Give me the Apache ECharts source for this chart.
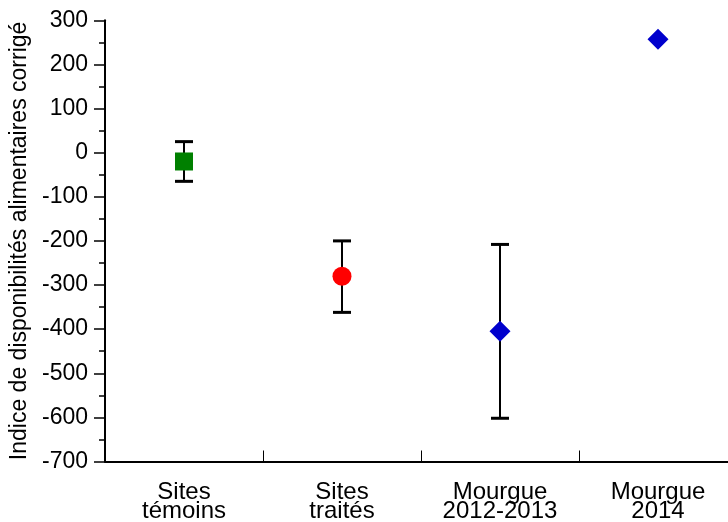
<!DOCTYPE html>
<html>
<head>
<meta charset="utf-8">
<script src="https://cdn.jsdelivr.net/npm/echarts@6/dist/echarts.min.js"></script>
<style>
  html, body { margin: 0; padding: 0; background: #fff; }
  #chart { width: 728px; height: 522px; }
</style>
</head>
<body>
<div id="chart"></div>
<script>
// Groups along the x axis
const categories = ['Sites\ntémoins', 'Sites\ntraités', 'Mourgue\n2012-2013', 'Mourgue\n2014'];
// Mean corrected food-availability index per group
const means = [-20, -280, -405, 257];
// Error bar limits (null where no bar is drawn)
const errLow = [-65, -362, -602, null];
const errHigh = [25, -200, -208, null];
// Y axis range and step
const yMin = -700, yMax = 300, yStep = 100;

// Marker appearance per group
const markerStyles = [
  { symbol: 'rect', size: 18, color: '#008000' },
  { symbol: 'circle', size: 19, color: '#ff0000' },
  { symbol: 'diamond', size: 21, color: '#0000cd' },
  { symbol: 'diamond', size: 21, color: '#0000cd' }
];

const FONT = '"Liberation Sans", Arial, Helvetica, sans-serif';

const chart = echarts.init(document.getElementById('chart'), null, { renderer: 'canvas' });

const errData = categories.map((c, i) => [i, errLow[i], errHigh[i]]).filter(d => d[1] !== null);
const pointData = categories.map((c, i) => ({
  value: [i, means[i]],
  symbol: markerStyles[i].symbol,
  symbolSize: markerStyles[i].size,
  itemStyle: { color: markerStyles[i].color, opacity: 1 }
}));

chart.setOption({
  animation: false,
  backgroundColor: '#fff',
  grid: { left: 105, top: 20.3, bottom: 60.5, right: -9, containLabel: false, outerBoundsMode: 'none' },
  xAxis: {
    type: 'category',
    data: categories,
    boundaryGap: true,
    axisLine: { onZero: false, lineStyle: { color: '#000', width: 2 } },
    axisTick: { show: true, inside: true, length: 11, lineStyle: { color: '#000', width: 1 } },
    axisLabel: {
      color: '#000', fontFamily: FONT, fontSize: 24, lineHeight: 19, margin: 21,
      interval: 0
    },
    splitLine: { show: false }
  },
  yAxis: {
    type: 'value',
    min: yMin, max: yMax, interval: yStep,
    name: 'Indice de disponibilités alimentaires corrigé',
    nameLocation: 'middle',
    nameRotate: 90,
    nameGap: 71,
    nameTextStyle: { color: '#000', fontFamily: FONT, fontSize: 23 },
    axisLine: { show: true, lineStyle: { color: '#000', width: 2 } },
    axisTick: { show: true, length: 11, lineStyle: { color: '#000', width: 1.5 } },
    minorTick: { show: true, splitNumber: 2, length: 6, lineStyle: { color: '#000', width: 1.5 } },
    axisLabel: { color: '#000', fontFamily: FONT, fontSize: 23, margin: 17 },
    splitLine: { show: false }
  },
  series: [
    {
      type: 'custom',
      data: errData,
      z: 1,
      renderItem: function (params, api) {
        const x = api.coord([api.value(0), 0])[0];
        const yLo = api.coord([api.value(0), api.value(1)])[1];
        const yHi = api.coord([api.value(0), api.value(2)])[1];
        const half = 9;
        return {
          type: 'group',
          children: [
            { type: 'line', shape: { x1: x, y1: yHi, x2: x, y2: yLo }, style: { stroke: '#000', lineWidth: 2 } },
            { type: 'line', shape: { x1: x - half, y1: yHi, x2: x + half, y2: yHi }, style: { stroke: '#000', lineWidth: 3 } },
            { type: 'line', shape: { x1: x - half, y1: yLo, x2: x + half, y2: yLo }, style: { stroke: '#000', lineWidth: 3 } }
          ]
        };
      }
    },
    {
      type: 'scatter',
      z: 3,
      data: pointData
    }
  ]
});
</script>
</body>
</html>
